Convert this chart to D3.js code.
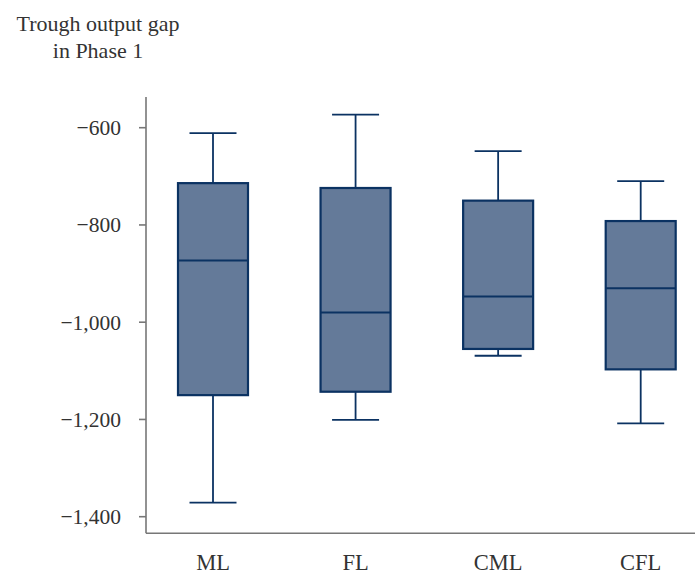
<!DOCTYPE html>
<html><head><meta charset="utf-8">
<script src="https://cdn.jsdelivr.net/npm/d3@7"></script>
<style>
body{margin:0;background:#fff;}
svg{display:block;}
text{font-family:"Liberation Serif","DejaVu Serif",serif;fill:#333;}
</style></head>
<body>
<script>
const categories = ["ML","FL","CML","CFL"];
const whiskerLow  = [-1371,-1201,-1069,-1208];
const q1          = [-1150,-1143,-1055,-1097];
const median      = [-873,-980,-947,-930];
const q3          = [-714,-724,-750,-792];
const whiskerHigh = [-611,-573,-648,-710];
const yTicks = [-600,-800,-1000,-1200,-1400];
const yTitle = ["Trough output gap","in Phase 1"];

const W=695,H=575;
const svg=d3.select("body").append("svg").attr("width",W).attr("height",H);

const y=d3.scaleLinear().domain([-600,-1400]).range([127.7,516.7]);
const x=d3.scalePoint().domain(categories).range([213,640.7]);
const boxW=70, capW=47;
const axisX=146, axisY=533.3, axisTop=97;

const data=categories.map((c,i)=>({c,lo:whiskerLow[i],q1:q1[i],med:median[i],q3:q3[i],hi:whiskerHigh[i]}));

const stroke="#0b3262", fill="#647a99";
const g=svg.append("g");
const b=g.selectAll("g.box").data(data).join("g").attr("class","box");
b.append("line").attr("x1",d=>x(d.c)).attr("x2",d=>x(d.c)).attr("y1",d=>y(d.hi)).attr("y2",d=>y(d.q3)).attr("stroke",stroke).attr("stroke-width",1.8);
b.append("line").attr("x1",d=>x(d.c)).attr("x2",d=>x(d.c)).attr("y1",d=>y(d.q1)).attr("y2",d=>y(d.lo)).attr("stroke",stroke).attr("stroke-width",1.8);
b.append("line").attr("x1",d=>x(d.c)-capW/2).attr("x2",d=>x(d.c)+capW/2).attr("y1",d=>y(d.hi)).attr("y2",d=>y(d.hi)).attr("stroke",stroke).attr("stroke-width",1.8);
b.append("line").attr("x1",d=>x(d.c)-capW/2).attr("x2",d=>x(d.c)+capW/2).attr("y1",d=>y(d.lo)).attr("y2",d=>y(d.lo)).attr("stroke",stroke).attr("stroke-width",1.8);
b.append("rect").attr("x",d=>x(d.c)-boxW/2).attr("width",boxW).attr("y",d=>y(d.q3)).attr("height",d=>y(d.q1)-y(d.q3)).attr("fill",fill).attr("stroke",stroke).attr("stroke-width",2.2);
b.append("line").attr("x1",d=>x(d.c)-boxW/2).attr("x2",d=>x(d.c)+boxW/2).attr("y1",d=>y(d.med)).attr("y2",d=>y(d.med)).attr("stroke",stroke).attr("stroke-width",2);

const axisColor="#777";
svg.append("line").attr("x1",axisX).attr("x2",axisX).attr("y1",axisTop).attr("y2",axisY).attr("stroke",axisColor).attr("stroke-width",1.6);
svg.append("line").attr("x1",axisX).attr("x2",W).attr("y1",axisY).attr("y2",axisY).attr("stroke",axisColor).attr("stroke-width",1.6);
const fmt=d3.format(",");
const yt=svg.selectAll("g.yt").data(yTicks).join("g").attr("class","yt");
yt.append("line").attr("x1",axisX-7).attr("x2",axisX).attr("y1",d=>y(d)).attr("y2",d=>y(d)).attr("stroke",axisColor).attr("stroke-width",1.6);
yt.append("text").attr("x",121).attr("y",d=>y(d)).attr("dy","0.35em").attr("text-anchor","end").attr("font-size",21.5).text(d=>fmt(d));

svg.selectAll("text.xl").data(categories).join("text").attr("class","xl")
  .attr("x",d=>x(d)).attr("y",570).attr("text-anchor","middle").attr("font-size",22.5).text(d=>d);

svg.selectAll("text.tt").data(yTitle).join("text").attr("class","tt")
  .attr("x",98).attr("y",(d,i)=>31+i*27).attr("text-anchor","middle").attr("font-size",22).text(d=>d);
</script>
</body></html>
